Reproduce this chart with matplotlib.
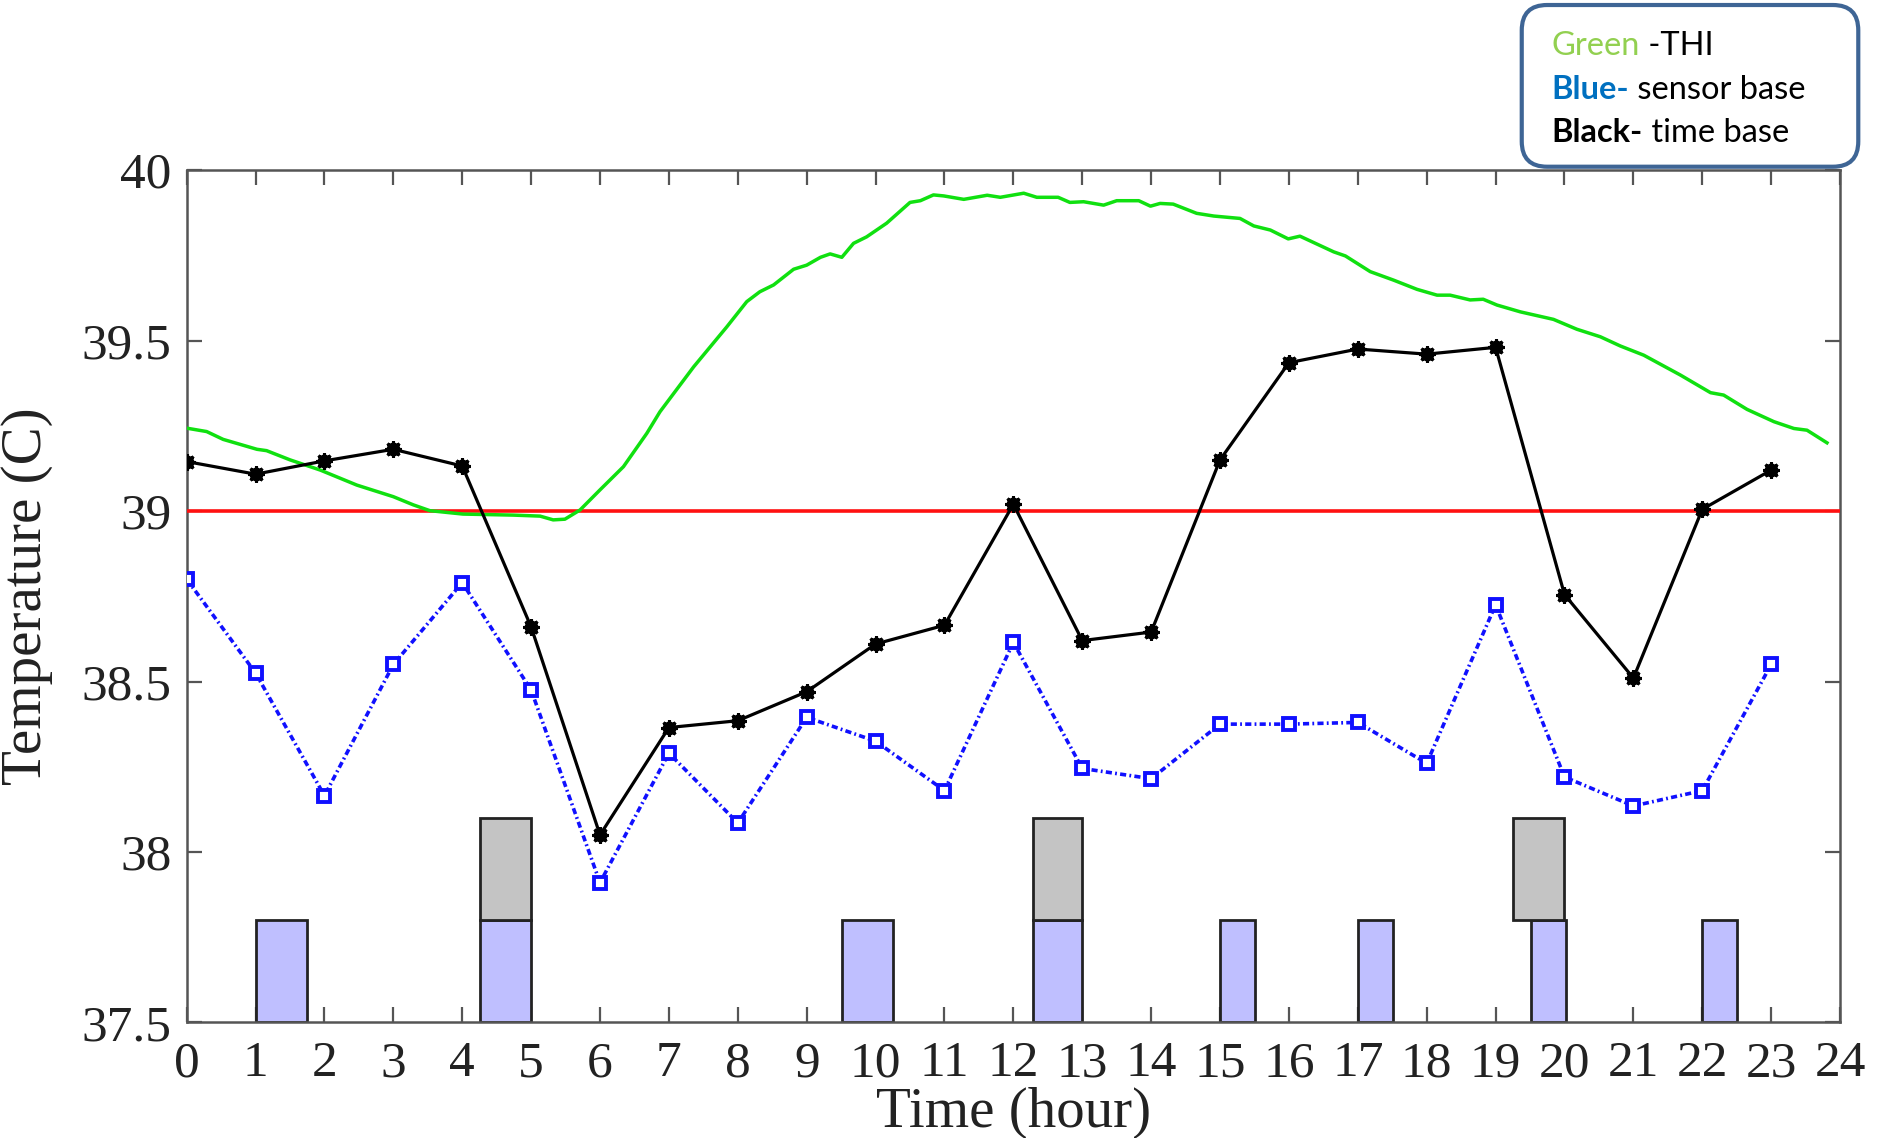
import numpy as np
import matplotlib
matplotlib.use("Agg")
import matplotlib.pyplot as plt
from matplotlib.patches import FancyBboxPatch

# hourly readings
hours = list(range(24))
time_base = [39.145, 39.108, 39.147, 39.181, 39.132, 38.66, 38.05, 38.365, 38.385, 38.47,
             38.61, 38.665, 39.02, 38.62, 38.645, 39.15, 39.435, 39.475, 39.46, 39.48,
             38.755, 38.51, 39.005, 39.12]
sensor_base = [38.80, 38.525, 38.165, 38.55, 38.79, 38.475, 37.91, 38.29, 38.085, 38.395,
               38.325, 38.18, 38.615, 38.245, 38.215, 38.375, 38.375, 38.38, 38.26, 38.725,
               38.22, 38.135, 38.18, 38.55]

# THI curve
thi_t = [0, 0.29, 0.53, 1.02, 1.16, 1.5, 1.94, 2.47, 3.0, 3.29, 3.53, 4.01, 4.74, 5.13,
         5.32, 5.49, 5.71, 6.0, 6.34, 6.68, 6.87, 7.36, 7.84, 8.13, 8.32, 8.52, 8.81, 9.0,
         9.2, 9.34, 9.51, 9.68, 9.87, 10.16, 10.5, 10.65, 10.84, 10.99, 11.28, 11.62, 11.81,
         12.15, 12.34, 12.65, 12.82, 13.02, 13.31, 13.5, 13.82, 13.99, 14.13, 14.32, 14.66,
         14.91, 15.29, 15.49, 15.73, 15.99, 16.16, 16.65, 16.82, 17.18, 17.52, 17.86, 18.15,
         18.34, 18.63, 18.82, 19.02, 19.36, 19.84, 20.18, 20.52, 20.81, 21.15, 21.68, 22.12,
         22.31, 22.65, 23.04, 23.33, 23.52, 23.81]
thi = [39.243, 39.233, 39.21, 39.181, 39.177, 39.15, 39.12, 39.076, 39.042, 39.018, 39.001,
       38.991, 38.988, 38.985, 38.974, 38.976, 39.003, 39.062, 39.13, 39.228, 39.291, 39.423,
       39.54, 39.614, 39.643, 39.663, 39.709, 39.721, 39.744, 39.754, 39.744, 39.785, 39.804,
       39.844, 39.905, 39.91, 39.927, 39.924, 39.914, 39.926, 39.92, 39.932, 39.92, 39.92,
       39.905, 39.907, 39.897, 39.91, 39.91, 39.894, 39.902, 39.9, 39.873, 39.865, 39.858,
       39.836, 39.824, 39.798, 39.806, 39.76, 39.748, 39.702, 39.677, 39.65, 39.633, 39.633,
       39.619, 39.621, 39.604, 39.584, 39.562, 39.533, 39.511, 39.484, 39.457, 39.399, 39.347,
       39.34, 39.298, 39.262, 39.242, 39.237, 39.2]

threshold = 39.0

# event bars (start hour, end hour)
sensor_start = [1.0, 4.26, 9.51, 12.28, 15.0, 17.0, 19.51, 22.0]
sensor_end = [1.75, 5.0, 10.26, 13.0, 15.51, 17.51, 20.02, 22.5]
time_start = [4.26, 12.28, 19.25]
time_end = [5.0, 13.0, 20.0]
bar_base, sensor_top, time_top = 37.5, 37.8, 38.1

fig = plt.figure(figsize=(18.78, 11.38), dpi=100)
ax = fig.add_axes([0.0994, 0.1015, 0.8804, 0.7491])

serif = "Liberation Serif"

ax.bar(sensor_start, sensor_top - bar_base, width=np.subtract(sensor_end, sensor_start),
       bottom=bar_base, align="edge", color="#bfbfff", edgecolor="#222222", linewidth=2, zorder=2)
ax.bar(time_start, time_top - sensor_top, width=np.subtract(time_end, time_start),
       bottom=sensor_top, align="edge", color="#c4c4c4", edgecolor="#222222", linewidth=2, zorder=2)

ax.axhline(threshold, color="#ff1010", lw=2.6, zorder=3)
ax.plot(thi_t, thi, color="#10e010", lw=2.5, zorder=4)
ax.plot(hours, sensor_base, color="#1010ff", lw=2.6, dashes=[1.7, 0.9, 0.5, 0.9],
        marker="s", ms=8, mfc="white", mec="#1010ff", mew=2.8, zorder=5)
ax.plot(hours, time_base, color="black", lw=2.3, marker="o", ms=9, zorder=6)
ax.plot(hours, time_base, ls="none", marker=(8, 2, 0), ms=12, mew=2.2, color="black", zorder=6)

ax.set_xlim(0, 24)
ax.set_ylim(37.5, 40)
ax.set_xticks(range(25))
ax.set_yticks([37.5, 38, 38.5, 39, 39.5, 40])
ax.set_yticklabels(["37.5", "38", "38.5", "39", "39.5", "40"])
ax.tick_params(direction="in", length=11, width=1.6, color="#555555",
               top=True, right=True, labelsize=37, labelcolor="#222222")
ax.tick_params(axis="x", pad=13)
ax.tick_params(axis="y", pad=11)
for lab in ax.get_xticklabels() + ax.get_yticklabels():
    lab.set_family(serif)
for sp in ax.spines.values():
    sp.set_color("#555555")
    sp.set_linewidth(1.8)

ax.set_xlabel("Time (hour)", family=serif, fontsize=41, color="#222222")
ax.set_ylabel("Temperature (C)", family=serif, fontsize=41, color="#222222")
ax.xaxis.set_label_coords(0.5, -0.076)
ax.yaxis.set_label_coords(-0.081, 0.5)

# colour key box in the top right corner
box = FancyBboxPatch((0.8103, 0.8535), 0.1792, 0.1421, boxstyle="round,pad=0,rounding_size=0.0135",
                     transform=fig.transFigure, facecolor="white", edgecolor="#3e6595",
                     linewidth=3, mutation_aspect=1878 / 1138)
fig.patches.append(box)

key_lines = [
    (0.9517, [("Green", "#92d050", "normal"), (" -THI", "black", "normal")]),
    (0.9130, [("Blue-", "#0070c0", "bold"), (" sensor base", "black", "normal")]),
    (0.8752, [("Black-", "black", "bold"), (" time base", "black", "normal")]),
]
renderer = fig.canvas.get_renderer()
for y, parts in key_lines:
    x = 0.8262
    for s, c, w in parts:
        t = fig.text(x, y, s, color=c, weight=w, fontsize=23.5, family="Lato",
                     va="baseline", transform=fig.transFigure)
        bb = t.get_window_extent(renderer)
        x += bb.width / fig.bbox.width

fig.savefig("out.png", dpi=100)
